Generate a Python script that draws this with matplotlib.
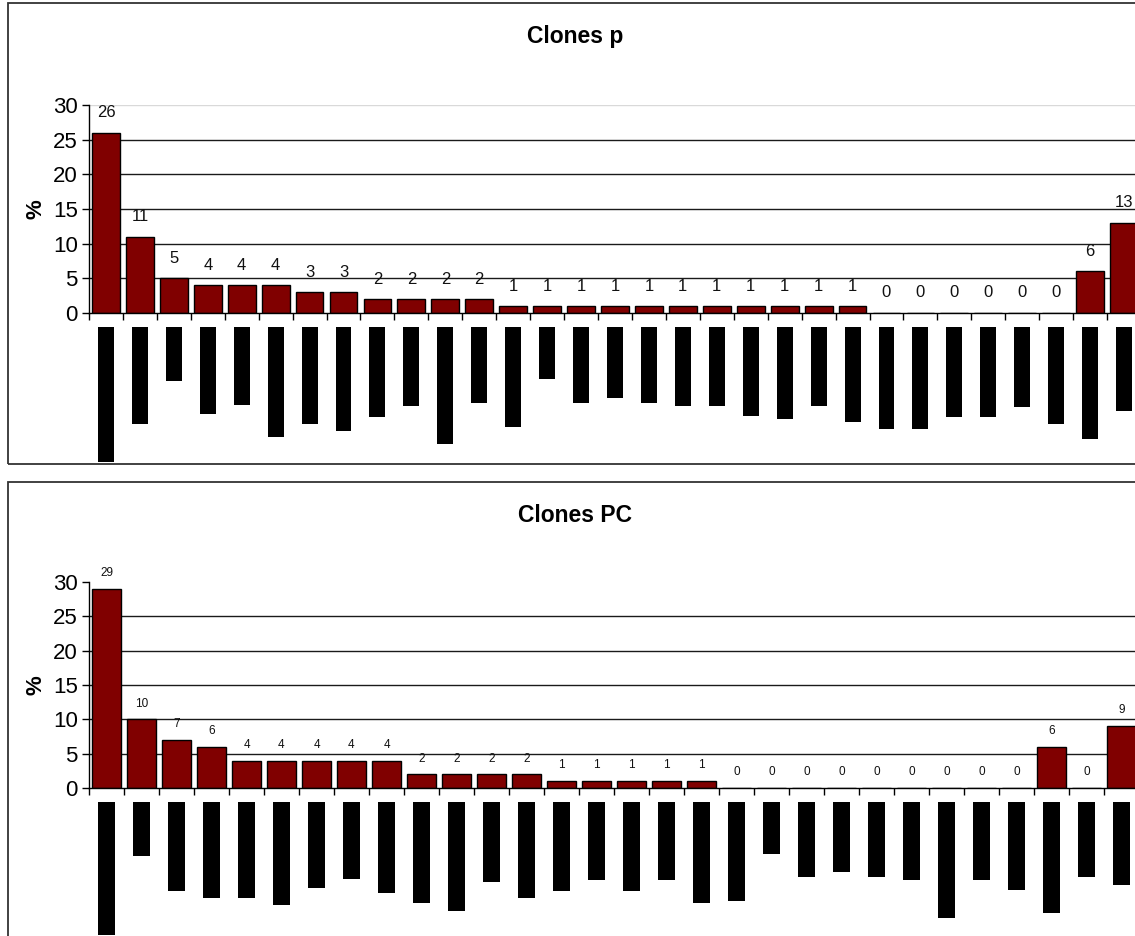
import matplotlib.pyplot as plt
from matplotlib.patches import Rectangle

plt.rcParams['font.family'] = ['Liberation Sans', 'DejaVu Sans']

W, H = 1135, 936

# panel 1: Clones p
values_p = [26, 11, 5, 4, 4, 4, 3, 3, 2, 2, 2, 2,
            1, 1, 1, 1, 1, 1, 1, 1, 1, 1, 1,
            0, 0, 0, 0, 0, 0, 6, 13]
# length (px) of the blacked-out category labels under each bar
label_len_p = [135, 97, 54, 87, 78, 110, 97, 104, 90, 79, 117, 76,
               100, 52, 76, 71, 76, 79, 79, 89, 92, 79, 95,
               102, 102, 90, 90, 80, 97, 112, 84]

# panel 2: Clones PC
values_pc = [29, 10, 7, 6, 4, 4, 4, 4, 4, 2, 2, 2, 2,
             1, 1, 1, 1, 1, 0, 0, 0, 0, 0, 0, 0, 0, 0, 6, 0, 9]
label_len_pc = [133, 54, 89, 96, 96, 103, 86, 77, 91, 101, 109, 80, 96,
                89, 78, 89, 78, 101, 99, 52, 75, 70, 75, 78, 116, 78,
                88, 111, 75, 83]

panels = [
    dict(title='Clones p', values=values_p, labels=label_len_p,
         axis=(89, 105, 1141, 313), lab=(327, 466), border=(8, 3, 1150, 464),
         title_y=37, fs=12, off=9, grid30=True),
    dict(title='Clones PC', values=values_pc, labels=label_len_pc,
         axis=(89, 582, 1139, 788), lab=(802, 936), border=(8, 482, 1150, 950),
         title_y=516, fs=8.5, off=7, grid30=False),
]


def rect(x0, y0, x1, y1):
    return [x0 / W, 1 - y1 / H, (x1 - x0) / W, (y1 - y0) / H]


fig = plt.figure(figsize=(W / 100, H / 100), dpi=100)

for p in panels:
    bx0, by0, bx1, by1 = p['border']
    fig.add_artist(Rectangle((bx0 / W, 1 - by1 / H), (bx1 - bx0) / W, (by1 - by0) / H,
                             transform=fig.transFigure, fill=False,
                             edgecolor='#333333', linewidth=1.3))

    n = len(p['values'])
    x = list(range(n))
    ax0, ay0, ax1, ay1 = p['axis']
    ax = fig.add_axes(rect(ax0, ay0, ax1, ay1))
    for g in [5, 10, 15, 20, 25]:
        ax.axhline(g, color='#1a1a1a', linewidth=1.0, zorder=0)
    if p['grid30']:
        ax.axhline(30, color='#d9d9d9', linewidth=1.0, zorder=0)
    ax.bar(x, p['values'], width=0.82, color='#800000', edgecolor='black',
           linewidth=1.0, zorder=2)
    for xi, v in zip(x, p['values']):
        ax.annotate(str(v), (xi, v), xytext=(0, p['off']), textcoords='offset points',
                    ha='center', va='bottom', fontsize=p['fs'], color='#111111',
                    annotation_clip=False)
    ax.set_xlim(-0.5, n - 0.5)
    ax.set_ylim(0, 30)
    ax.set_yticks([0, 5, 10, 15, 20, 25, 30])
    ax.set_xticks([i - 0.5 for i in range(n + 1)])
    ax.set_xticklabels([])
    ax.tick_params(axis='y', labelsize=16, length=5, width=1, pad=3)
    ax.tick_params(axis='x', length=5, width=1, direction='out')
    for s in ['top', 'right']:
        ax.spines[s].set_visible(False)
    for s in ['left', 'bottom']:
        ax.spines[s].set_linewidth(1.0)
        ax.spines[s].set_zorder(3)
    ax.set_ylabel('%', fontsize=16, fontweight='bold', labelpad=5)

    fig.text(575 / W, 1 - p['title_y'] / H, p['title'],
             ha='center', va='center', fontsize=16.5, fontweight='bold')

    # blacked-out category labels
    ly0, ly1 = p['lab']
    lax = fig.add_axes(rect(ax0, ly0, ax1, ly1))
    lax.bar(x, p['labels'], width=0.47, color='black', clip_on=False)
    lax.set_xlim(-0.5, n - 0.5)
    lax.set_ylim(ly1 - ly0, 0)
    lax.axis('off')

fig.savefig('out.png', dpi=100)
